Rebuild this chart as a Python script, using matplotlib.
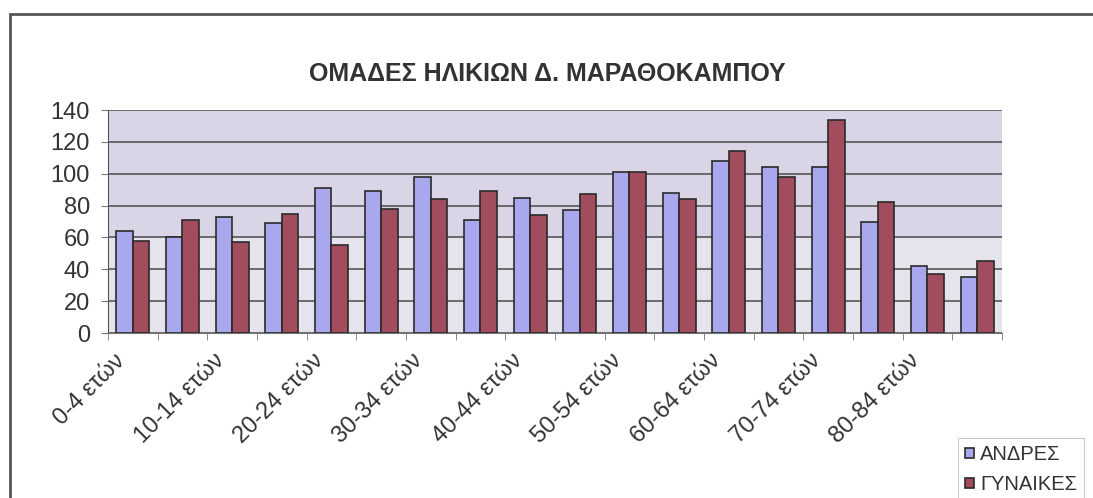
import numpy as np
import matplotlib
matplotlib.use('Agg')
import matplotlib.pyplot as plt
from matplotlib.patches import Rectangle
from matplotlib.ticker import MultipleLocator

# age groups of the municipality
age_groups = ['0-4 ετών', '5-9 ετών', '10-14 ετών', '15-19 ετών', '20-24 ετών', '25-29 ετών',
              '30-34 ετών', '35-39 ετών', '40-44 ετών', '45-49 ετών', '50-54 ετών', '55-59 ετών',
              '60-64 ετών', '65-69 ετών', '70-74 ετών', '75-79 ετών', '80-84 ετών', '85+ ετών']
men = [64, 60, 73, 69, 91, 89, 98, 71, 85, 77, 101, 88, 108, 104, 104, 70, 42, 35]
women = [58, 71, 57, 75, 55, 78, 84, 89, 74, 87, 101, 84, 114, 98, 134, 82, 37, 45]
yticks = [0, 20, 40, 60, 80, 100, 120, 140]

plt.rcParams['font.family'] = ['Liberation Sans', 'DejaVu Sans']

fig = plt.figure(figsize=(10.93, 4.98), dpi=100)
ax = fig.add_axes([0.0988, 0.3313, 0.8179, 0.4478])

x = np.arange(len(age_groups))
w = 0.33
ax.set_facecolor('#d9d5e7')
ax.axhspan(0, 60, color='#e5e3eb', zorder=0)
ax.bar(x - w / 2, men, w, color='#a9a8ee', edgecolor='#2a2a2a', linewidth=1.2, label='ΑΝΔΡΕΣ', zorder=3)
ax.bar(x + w / 2, women, w, color='#a24d5e', edgecolor='#2a2a2a', linewidth=1.2, label='ΓΥΝΑΙΚΕΣ', zorder=3)

ax.set_xlim(-0.5, len(age_groups) - 0.5)
ax.set_ylim(0, 140)
ax.set_yticks(yticks)
ax.yaxis.grid(True, color='#4a4a4a', linewidth=1.1, zorder=1)
ax.set_axisbelow(True)

# category labels every other group (set slightly left like the original), tick marks at the borders
ax.set_xticks(x[::2] - 0.38)
ax.set_xticklabels(age_groups[::2], rotation=45, ha='right', va='top', rotation_mode='anchor', fontsize=17, color='#333333')
ax.xaxis.set_minor_locator(MultipleLocator(1, offset=0.5))
ax.tick_params(axis='x', which='major', length=0, pad=12)
ax.tick_params(axis='x', which='minor', length=5, color='#777777')
ax.tick_params(axis='y', length=5, color='#777777', labelsize=17, labelcolor='#333333', pad=8)

for side in ['top', 'right']:
    ax.spines[side].set_visible(False)
ax.spines['left'].set_color('#555555')
ax.spines['bottom'].set_color('#777777')

fig.text(0.501, 0.851, 'ΟΜΑΔΕΣ ΗΛΙΚΙΩΝ Δ. ΜΑΡΑΘΟΚΑΜΠΟΥ', ha='center', va='center',
         fontsize=18, fontweight='bold', color='#333333')

# outer chart frame (cut off at right and bottom)
fig.patches.append(Rectangle((10 / 1093, -0.1), 1.2, 0.972 + 0.1, transform=fig.transFigure,
                             fill=False, edgecolor='#555555', linewidth=2))

leg = fig.legend(loc='upper left', bbox_to_anchor=(948 / 1093, 1 - 428 / 498), fontsize=14.5,
                 handlelength=0.45, handleheight=0.45, handletextpad=0.3, labelspacing=0.55,
                 borderpad=0.35, frameon=True, fancybox=False)
leg.get_frame().set_edgecolor('#bbbbbb')
leg.get_frame().set_linewidth(0.8)
for t in leg.get_texts():
    t.set_color('#333333')

fig.savefig('out.png', dpi=100)
